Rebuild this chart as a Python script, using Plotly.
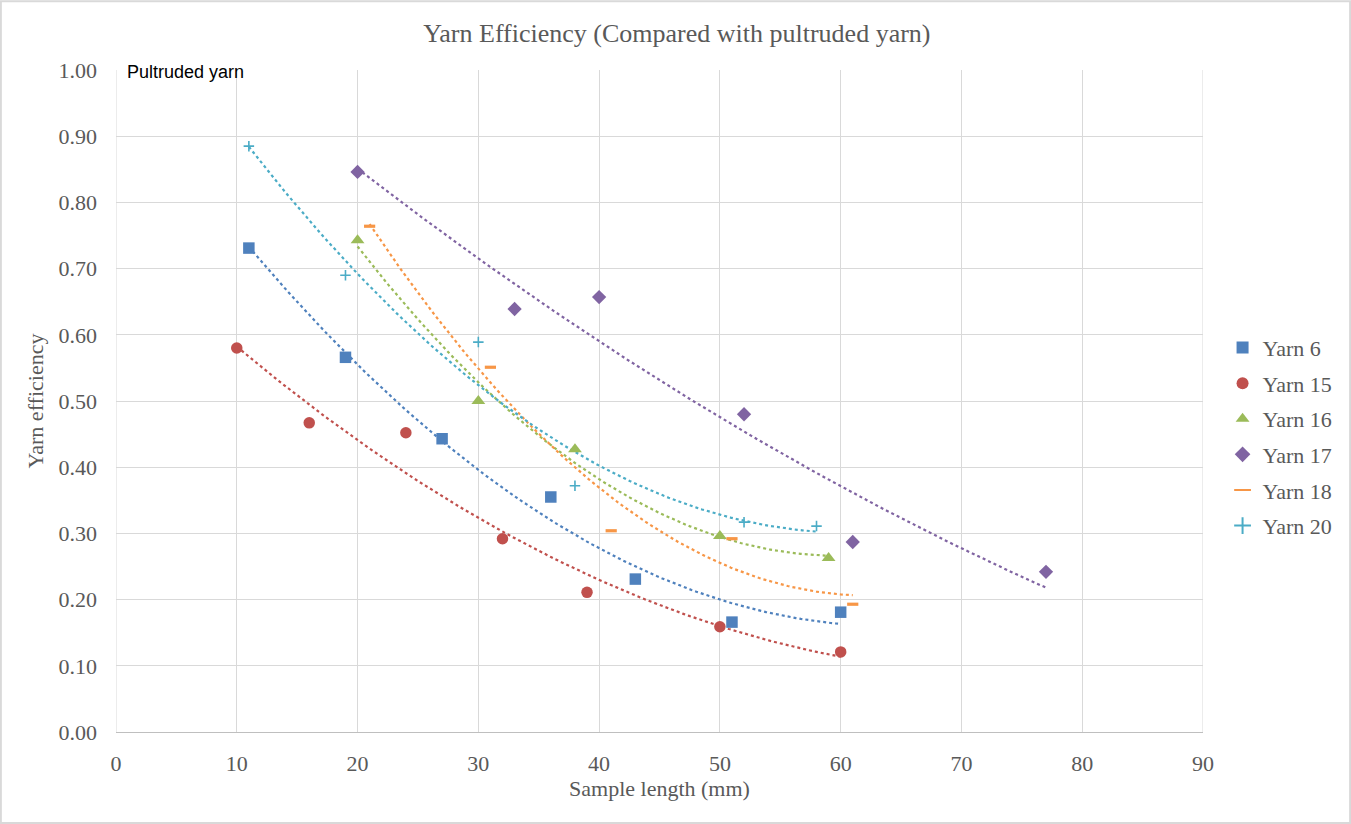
import numpy as np
import plotly.graph_objects as go

# ---- data ----
yarn6_x = [11, 19, 27, 36, 43, 51, 60]
yarn6_y = [0.731, 0.566, 0.443, 0.355, 0.231, 0.166, 0.181]
yarn15_x = [10, 16, 24, 32, 39, 50, 60]
yarn15_y = [0.580, 0.467, 0.452, 0.292, 0.211, 0.159, 0.121]
yarn16_x = [20, 30, 38, 50, 59]
yarn16_y = [0.743, 0.500, 0.427, 0.296, 0.263]
yarn17_x = [20, 33, 40, 52, 61, 77]
yarn17_y = [0.846, 0.639, 0.657, 0.480, 0.287, 0.242]
yarn18_x = [21, 31, 41, 51, 61]
yarn18_y = [0.764, 0.551, 0.304, 0.292, 0.193]
yarn20_x = [11, 19, 30, 38, 52, 58]
yarn20_y = [0.885, 0.690, 0.589, 0.372, 0.317, 0.311]

names = ["Yarn 6", "Yarn 15", "Yarn 16", "Yarn 17", "Yarn 18", "Yarn 20"]
xs = [yarn6_x, yarn15_x, yarn16_x, yarn17_x, yarn18_x, yarn20_x]
ys = [yarn6_y, yarn15_y, yarn16_y, yarn17_y, yarn18_y, yarn20_y]
colors = ["#4F81BD", "#C0504D", "#9BBB59", "#8064A2", "#F79646", "#4BACC6"]
symbols = ["square", "circle", "triangle-up", "diamond", "line-ew", "cross-thin"]
sizes = [11.5, 11.5, 12, 11, 8, 7.5]

x_ticks = [0, 10, 20, 30, 40, 50, 60, 70, 80, 90]
y_ticks = [0.0, 0.1, 0.2, 0.3, 0.4, 0.5, 0.6, 0.7, 0.8, 0.9, 1.0]

fig = go.Figure()

# polynomial (order 2) trendlines
for x, y, c in zip(xs, ys, colors):
    coef = np.polyfit(x, y, 2)
    tx = np.linspace(min(x), max(x), 120)
    fig.add_trace(go.Scatter(x=tx, y=np.polyval(coef, tx), mode="lines",
                             line=dict(color=c, width=2.2, dash="dot"),
                             showlegend=False, hoverinfo="skip"))

for n, x, y, c, s, sz in zip(names, xs, ys, colors, symbols, sizes):
    if s == "line-ew":
        marker = dict(symbol=s, size=sz, line=dict(color=c, width=3.2), color=c)
    elif s == "cross-thin":
        marker = dict(symbol=s, size=sz, line=dict(color=c, width=1.6), color=c)
    else:
        marker = dict(symbol=s, size=sz, color=c, line=dict(width=0))
    fig.add_trace(go.Scatter(x=x, y=y, mode="markers", name=n, marker=marker,
                             legendgroup=n))

serif = "Liberation Serif"
gray = "#595959"
grid = "#D9D9D9"

fig.update_layout(
    width=1351, height=824,
    margin=dict(l=116, r=148, t=70, b=92),
    paper_bgcolor="white", plot_bgcolor="white",
    title=dict(text="Yarn Efficiency (Compared with pultruded yarn)",
               x=0.501, xanchor="center", y=0.96, yanchor="middle",
               font=dict(family=serif, size=26, color=gray)),
    font=dict(family=serif, color=gray, size=22),
    xaxis=dict(range=[0, 90], tickvals=x_ticks, showgrid=True, gridcolor=grid,
               gridwidth=1, zeroline=False, showline=True, linecolor="#BFBFBF",
               ticks="", ticklabelstandoff=12,
               tickfont=dict(family=serif, size=22, color=gray),
               title=dict(text="Sample length (mm)", standoff=5,
                          font=dict(family=serif, size=22, color=gray))),
    yaxis=dict(range=[0, 1.0], tickvals=y_ticks, tickformat=".2f", showgrid=True,
               gridcolor=grid, gridwidth=1, zeroline=False, showline=False,
               ticks="", ticklabelstandoff=18,
               tickfont=dict(family=serif, size=22, color=gray),
               title=dict(text="Yarn efficiency", standoff=8,
                          font=dict(family=serif, size=22, color=gray))),
    legend=dict(x=1.018, xanchor="left", y=0.446, yanchor="middle",
                font=dict(family=serif, size=22, color=gray),
                tracegroupgap=4, itemsizing="constant", bgcolor="rgba(0,0,0,0)"),
    showlegend=True,
)

# gridlines at the plot edges
fig.add_shape(type="line", xref="x", yref="y", x0=90, x1=90, y0=0, y1=1.0,
              line=dict(color=grid, width=1), layer="below")
fig.add_shape(type="line", xref="x", yref="y", x0=0, x1=0, y0=0, y1=1.0,
              line=dict(color=grid, width=1), layer="below")

fig.add_annotation(text="Pultruded yarn", xref="paper", yref="paper",
                   x=0.008, y=0.997, xanchor="left", yanchor="middle",
                   showarrow=False,
                   font=dict(family="Liberation Sans", size=18, color="black"))

# outer chart border
fig.add_shape(type="rect", xref="paper", yref="paper",
              x0=-116 / 1087 + 0.0008, x1=1 + 148 / 1087 - 0.0008,
              y0=-92 / 662 + 0.0015, y1=1 + 70 / 662 - 0.002,
              line=dict(color="#D9D9D9", width=2), fillcolor="rgba(0,0,0,0)")

fig.write_html("out.html", config={"displayModeBar": False},
               post_script="document.body.style.margin='0px';document.body.style.overflow='hidden';")
